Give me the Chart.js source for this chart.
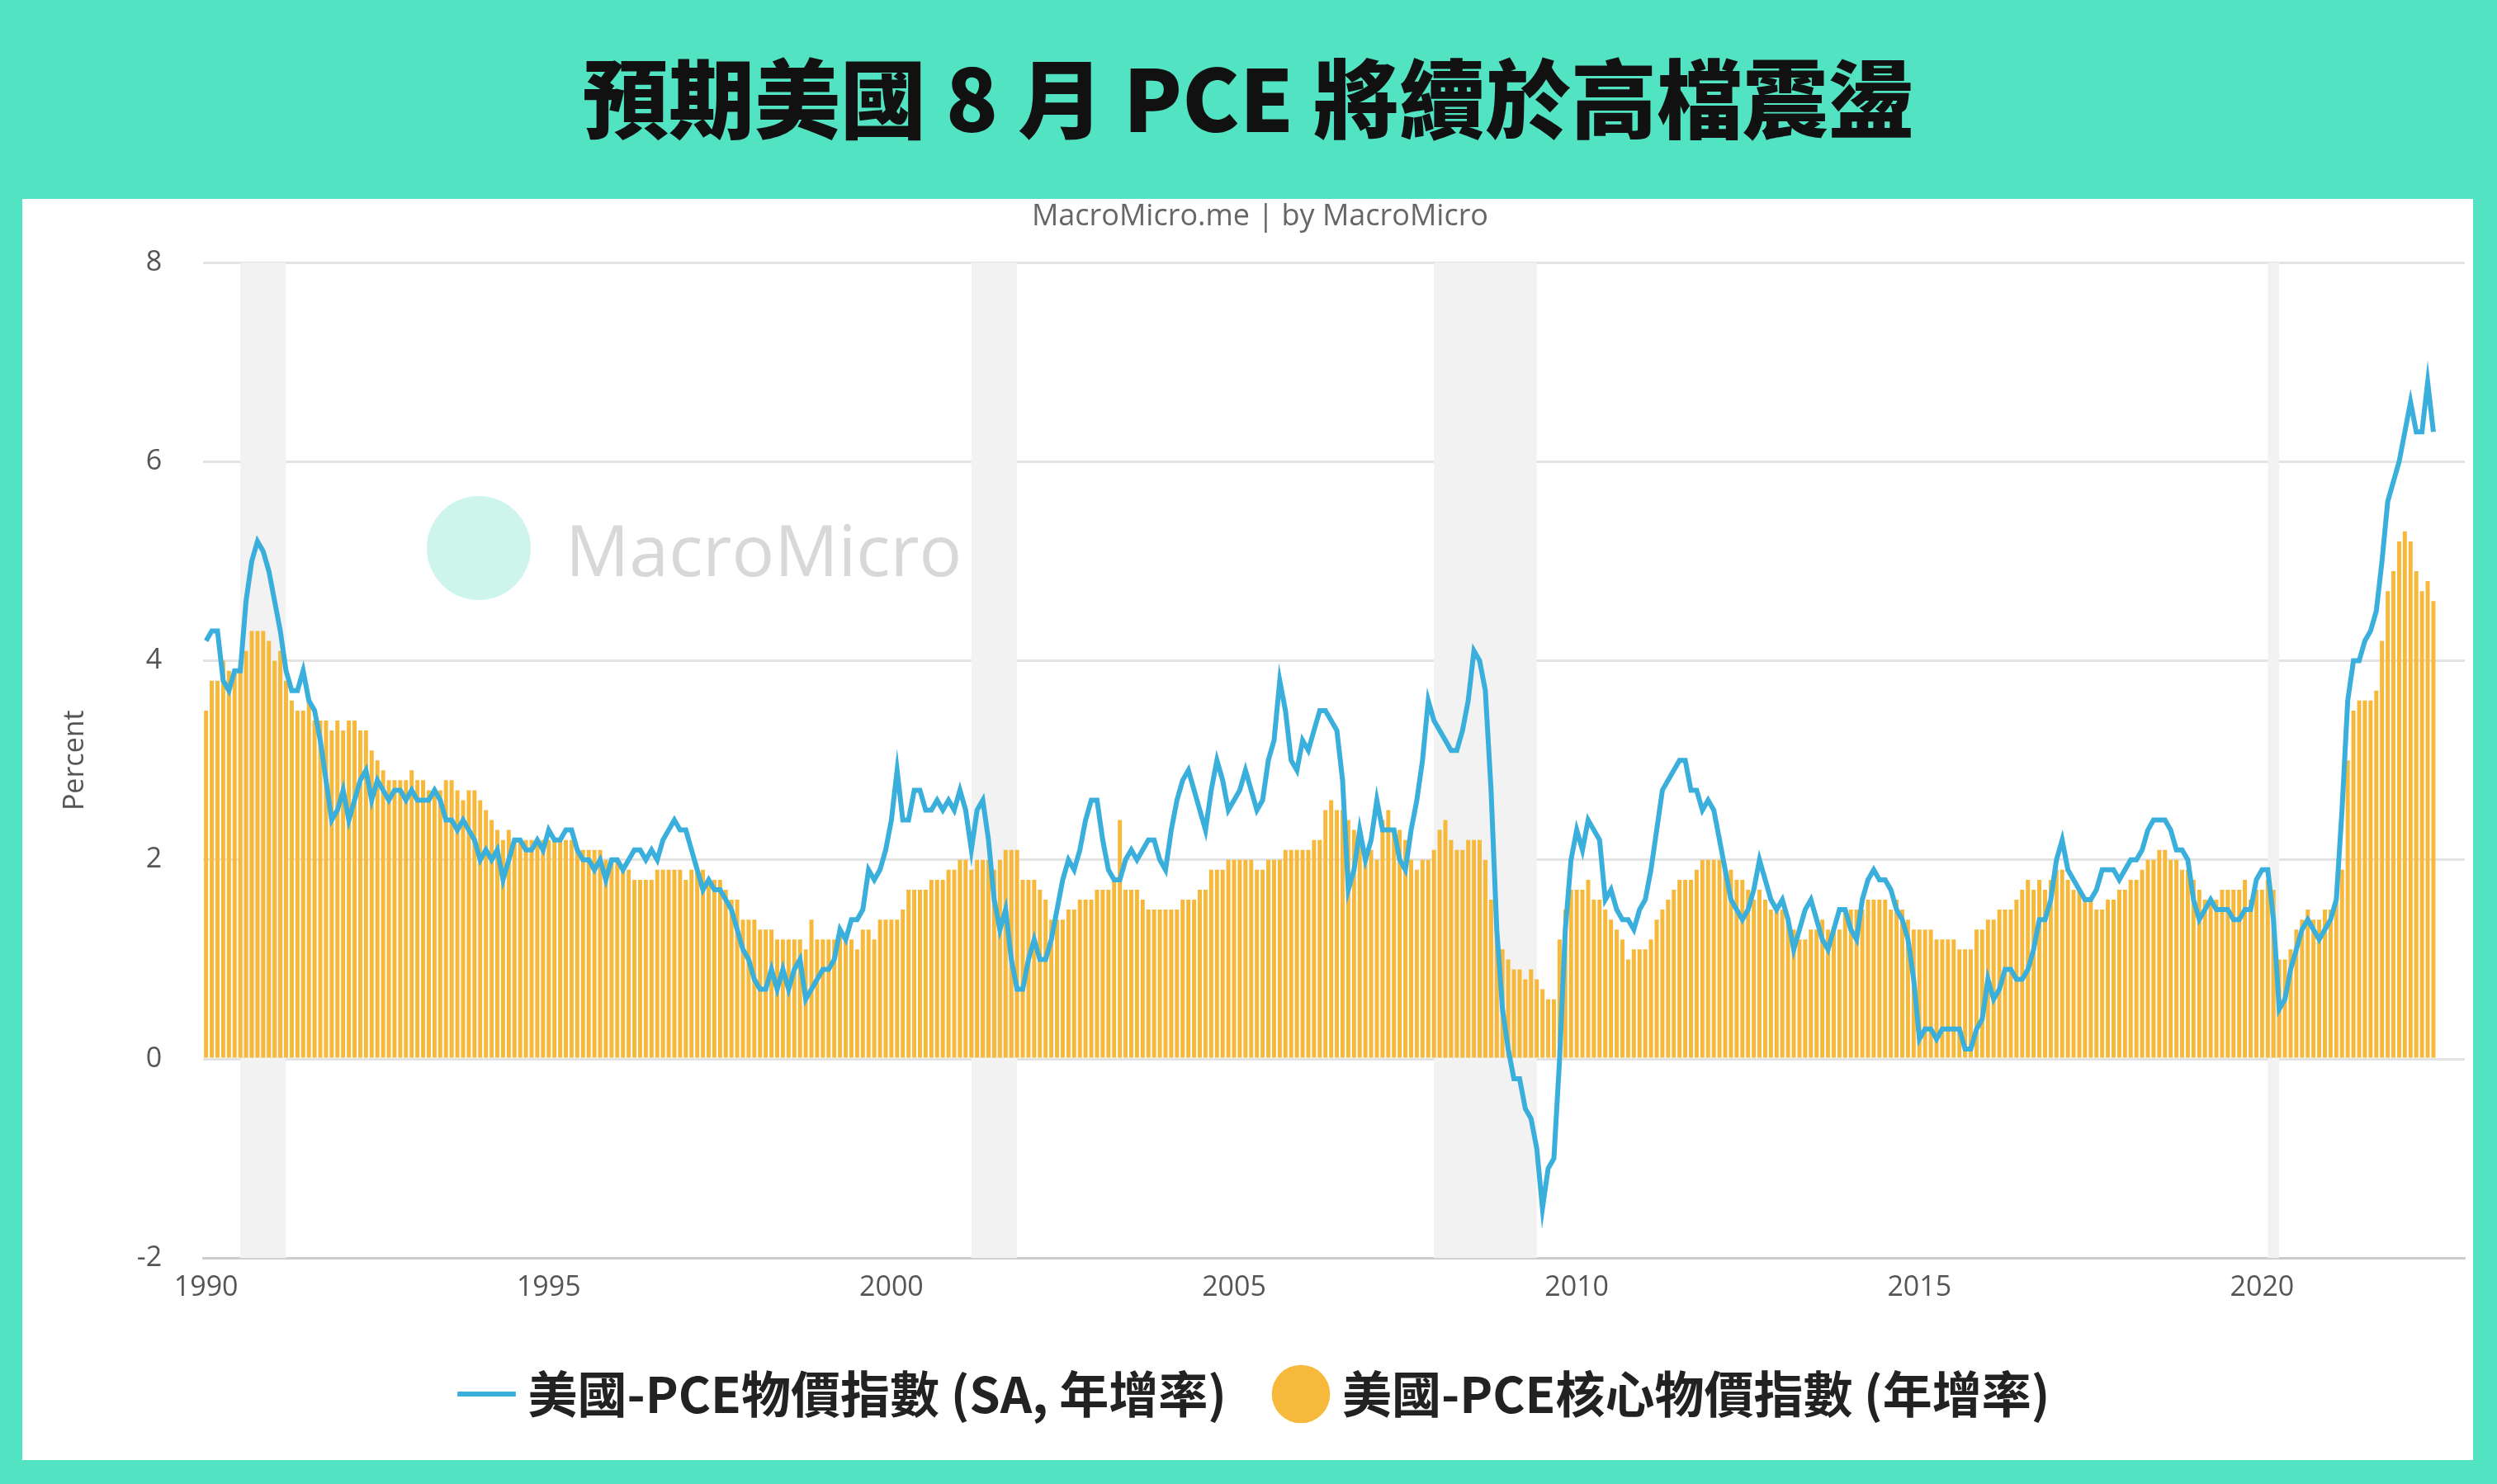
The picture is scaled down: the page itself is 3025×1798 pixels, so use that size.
<!DOCTYPE html>
<html>
<head>
<meta charset="utf-8">
<script src="https://cdn.jsdelivr.net/npm/chart.js@4"></script>
<style>
  html, body { margin: 0; padding: 0; }
  body { width: 3025px; height: 1798px; background: #52e3c2; position: relative; overflow: hidden;
         font-family: "Noto Sans CJK TC", "Noto Sans", sans-serif; }
  #title { position: absolute; left: 0; top: 40px; width: 3025px; text-align: center;
           font-size: 104px; font-weight: 900; color: #111; line-height: 150px; }
  #panel { position: absolute; left: 27px; top: 241px; width: 2969px; height: 1528px; background: #fff; }
  #wrap { position: absolute; left: 0; top: 0; width: 2969px; height: 1528px; }
  #mark { position: absolute; left: 490px; top: 360px; display: flex; align-items: center; opacity: 0.9; }
  #mark .dot { width: 126px; height: 126px; border-radius: 50%; background: #c9f4ea; }
  #mark .txt { margin-left: 42px; font-family: "Open Sans", sans-serif; font-size: 86px; color: #d4d4d4; }
</style>
</head>
<body>
<div id="title">預期美國 8 月 PCE 將續於高檔震盪</div>
<div id="panel">
  <div id="mark"><div class="dot"></div><div class="txt">MacroMicro</div></div>
  <div id="wrap"><canvas id="c"></canvas></div>
</div>
<script>
// monthly, 1990-01 .. 2022-07
var headline = [
  4.2,4.3,4.3,3.8,3.7,3.9,3.9,4.6,5.0,5.2,5.1,4.9,
  4.6,4.3,3.9,3.7,3.7,3.9,3.6,3.5,3.2,2.8,2.4,2.5,
  2.7,2.4,2.6,2.8,2.9,2.6,2.8,2.7,2.6,2.7,2.7,2.6,
  2.7,2.6,2.6,2.6,2.7,2.6,2.4,2.4,2.3,2.4,2.3,2.2,
  2.0,2.1,2.0,2.1,1.8,2.0,2.2,2.2,2.1,2.1,2.2,2.1,
  2.3,2.2,2.2,2.3,2.3,2.1,2.0,2.0,1.9,2.0,1.8,2.0,
  2.0,1.9,2.0,2.1,2.1,2.0,2.1,2.0,2.2,2.3,2.4,2.3,
  2.3,2.1,1.9,1.7,1.8,1.7,1.7,1.6,1.5,1.3,1.1,1.0,
  0.8,0.7,0.7,0.9,0.7,0.9,0.7,0.9,1.0,0.6,0.7,0.8,
  0.9,0.9,1.0,1.3,1.2,1.4,1.4,1.5,1.9,1.8,1.9,2.1,
  2.4,2.9,2.4,2.4,2.7,2.7,2.5,2.5,2.6,2.5,2.6,2.5,
  2.7,2.5,2.1,2.5,2.6,2.2,1.6,1.3,1.5,1.0,0.7,0.7,
  1.0,1.2,1.0,1.0,1.2,1.5,1.8,2.0,1.9,2.1,2.4,2.6,
  2.6,2.2,1.9,1.8,1.8,2.0,2.1,2.0,2.1,2.2,2.2,2.0,
  1.9,2.3,2.6,2.8,2.9,2.7,2.5,2.3,2.7,3.0,2.8,2.5,
  2.6,2.7,2.9,2.7,2.5,2.6,3.0,3.2,3.8,3.5,3.0,2.9,
  3.2,3.1,3.3,3.5,3.5,3.4,3.3,2.8,1.7,1.9,2.3,2.0,
  2.2,2.6,2.3,2.3,2.3,2.0,1.9,2.3,2.6,3.0,3.6,3.4,
  3.3,3.2,3.1,3.1,3.3,3.6,4.1,4.0,3.7,2.7,1.3,0.5,
  0.1,-0.2,-0.2,-0.5,-0.6,-0.9,-1.5,-1.1,-1.0,0.0,1.3,2.0,
  2.3,2.1,2.4,2.3,2.2,1.6,1.7,1.5,1.4,1.4,1.3,1.5,
  1.6,1.9,2.3,2.7,2.8,2.9,3.0,3.0,2.7,2.7,2.5,2.6,
  2.5,2.2,1.9,1.6,1.5,1.4,1.5,1.7,2.0,1.8,1.6,1.5,
  1.6,1.4,1.1,1.3,1.5,1.6,1.4,1.2,1.1,1.3,1.5,1.5,
  1.3,1.2,1.6,1.8,1.9,1.8,1.8,1.7,1.5,1.4,1.2,0.8,
  0.2,0.3,0.3,0.2,0.3,0.3,0.3,0.3,0.1,0.1,0.3,0.4,
  0.8,0.6,0.7,0.9,0.9,0.8,0.8,0.9,1.1,1.4,1.4,1.6,
  2.0,2.2,1.9,1.8,1.7,1.6,1.6,1.7,1.9,1.9,1.9,1.8,
  1.9,2.0,2.0,2.1,2.3,2.4,2.4,2.4,2.3,2.1,2.1,2.0,
  1.6,1.4,1.5,1.6,1.5,1.5,1.5,1.4,1.4,1.5,1.5,1.8,
  1.9,1.9,1.4,0.5,0.6,0.9,1.1,1.3,1.4,1.3,1.2,1.3,
  1.4,1.6,2.5,3.6,4.0,4.0,4.2,4.3,4.5,5.0,5.6,5.8,
  6.0,6.3,6.6,6.3,6.3,6.8,6.3
];
var core = [
  3.5,3.8,3.8,4.0,3.9,3.9,4.0,4.1,4.3,4.3,4.3,4.2,
  4.0,4.1,3.8,3.6,3.5,3.5,3.6,3.4,3.4,3.4,3.3,3.4,
  3.3,3.4,3.4,3.3,3.3,3.1,3.0,2.9,2.8,2.8,2.8,2.8,
  2.9,2.8,2.8,2.7,2.7,2.7,2.8,2.8,2.7,2.6,2.7,2.7,
  2.6,2.5,2.4,2.3,2.2,2.3,2.2,2.2,2.2,2.2,2.2,2.2,
  2.2,2.2,2.2,2.2,2.2,2.1,2.1,2.1,2.1,2.1,2.0,2.0,
  2.0,1.9,1.9,1.8,1.8,1.8,1.8,1.9,1.9,1.9,1.9,1.9,
  1.8,1.9,1.9,1.9,1.8,1.8,1.8,1.7,1.6,1.6,1.4,1.4,
  1.4,1.3,1.3,1.3,1.2,1.2,1.2,1.2,1.2,1.1,1.4,1.2,
  1.2,1.2,1.2,1.3,1.2,1.2,1.1,1.3,1.3,1.2,1.4,1.4,
  1.4,1.4,1.5,1.7,1.7,1.7,1.7,1.8,1.8,1.8,1.9,1.9,
  2.0,2.0,1.9,2.0,2.0,2.0,1.9,2.0,2.1,2.1,2.1,1.8,
  1.8,1.8,1.7,1.6,1.4,1.4,1.4,1.5,1.5,1.6,1.6,1.6,
  1.7,1.7,1.7,1.8,2.4,1.7,1.7,1.7,1.6,1.5,1.5,1.5,
  1.5,1.5,1.5,1.6,1.6,1.6,1.7,1.7,1.9,1.9,1.9,2.0,
  2.0,2.0,2.0,2.0,1.9,1.9,2.0,2.0,2.0,2.1,2.1,2.1,
  2.1,2.1,2.2,2.2,2.5,2.6,2.5,2.5,2.4,2.3,2.2,2.1,
  2.1,2.0,2.4,2.5,2.3,2.3,2.2,2.0,1.9,2.0,2.0,2.1,
  2.3,2.4,2.2,2.1,2.1,2.2,2.2,2.2,2.0,1.6,1.3,1.1,
  1.0,0.9,0.9,0.8,0.9,0.8,0.7,0.6,0.6,1.2,1.5,1.7,
  1.7,1.7,1.8,1.6,1.6,1.5,1.4,1.3,1.2,1.0,1.1,1.1,
  1.1,1.2,1.4,1.5,1.6,1.7,1.8,1.8,1.8,1.9,2.0,2.0,
  2.0,2.0,1.9,1.9,1.8,1.8,1.7,1.6,1.7,1.6,1.5,1.5,
  1.5,1.4,1.3,1.2,1.2,1.3,1.3,1.4,1.3,1.3,1.3,1.5,
  1.5,1.5,1.5,1.6,1.6,1.6,1.6,1.5,1.6,1.5,1.4,1.3,
  1.3,1.3,1.3,1.2,1.2,1.2,1.2,1.1,1.1,1.1,1.3,1.3,
  1.4,1.4,1.5,1.5,1.5,1.6,1.7,1.8,1.7,1.8,1.7,1.8,
  1.9,1.9,1.8,1.7,1.7,1.6,1.6,1.5,1.5,1.6,1.6,1.7,
  1.7,1.8,1.8,1.9,2.0,2.0,2.1,2.1,2.0,2.0,1.9,1.9,
  1.8,1.7,1.6,1.6,1.6,1.7,1.7,1.7,1.7,1.8,1.6,1.7,
  1.7,1.8,1.7,1.0,1.0,1.1,1.3,1.4,1.5,1.4,1.4,1.5,
  1.5,1.6,1.9,3.0,3.5,3.6,3.6,3.6,3.7,4.2,4.7,4.9,
  5.2,5.3,5.2,4.9,4.7,4.8,4.6
];
var recessions = [["1990-07", "1991-03"], ["2001-03", "2001-11"], ["2007-12", "2009-06"], ["2020-02", "2020-04"]];
var yTicks = [-2, 0, 2, 4, 6, 8];
var lastLabel = "2022-12";  // axis runs a few months past the data

var labels = [];
for (var i = 0; ; i++) {
  var y = 1990 + Math.floor(i / 12), m = i % 12 + 1;
  var l = y + '-' + (m < 10 ? '0' + m : m);
  labels.push(l);
  if (l === lastLabel) break;
}

var shade = {
  id: 'shade',
  beforeDatasetsDraw: function (chart) {
    var x = chart.scales.x, a = chart.chartArea, ctx = chart.ctx;
    ctx.save();
    ctx.fillStyle = '#f2f2f2';
    recessions.forEach(function (r) {
      var x0 = x.getPixelForValue(labels.indexOf(r[0])), x1 = x.getPixelForValue(labels.indexOf(r[1]));
      ctx.fillRect(x0, a.top, x1 - x0, a.bottom - a.top);
    });
    ctx.restore();
  }
};

new Chart(document.getElementById('c'), {
  data: {
    labels: labels,
    datasets: [
      { type: 'line', label: '美國-PCE物價指數 (SA, 年增率)', data: headline, borderColor: '#3aafdc',
        backgroundColor: '#3aafdc', borderWidth: 6, pointRadius: 0, tension: 0, pointStyle: 'line', order: 0 },
      { type: 'bar', label: '美國-PCE核心物價指數 (年增率)', data: core, backgroundColor: '#f6b93b',
        barPercentage: 0.72, categoryPercentage: 1, pointStyle: 'circle', order: 1 }
    ]
  },
  options: {
    responsive: true, maintainAspectRatio: false, animation: false,
    layout: { padding: { left: 40, right: 10, top: 0, bottom: 40 } },
    plugins: {
      title: { display: true, text: 'MacroMicro.me | by MacroMicro', color: '#666',
               font: { family: 'Open Sans', size: 36, weight: 'normal' }, padding: { top: 0, bottom: 34 } },
      legend: { position: 'bottom',
        labels: { usePointStyle: true, boxHeight: 50, padding: 70, color: '#222',
                  font: { family: 'Noto Sans CJK TC', size: 60, weight: 'bold' } } },
      tooltip: { enabled: false }
    },
    scales: {
      x: { offset: true,
        grid: { display: false, drawOnChartArea: false },
        border: { color: '#ccc', width: 3 },
        ticks: { autoSkip: false, maxRotation: 0, color: '#555', font: { family: 'Open Sans', size: 34 }, padding: 8,
          callback: function (v, i) { var l = labels[i]; return (l.slice(5) === '01' && (+l.slice(0, 4)) % 5 === 0) ? l.slice(0, 4) : null; } }
      },
      y: { min: -2, max: 8,
        afterBuildTicks: function (s) { s.ticks = yTicks.map(function (v) { return { value: v }; }); },
        grid: { color: '#e3e3e3', lineWidth: 3, drawTicks: false },
        border: { display: false },
        ticks: { color: '#555', font: { family: 'Open Sans', size: 34 }, padding: 50 },
        title: { display: true, text: 'Percent', color: '#555', font: { family: 'Open Sans', size: 34 } }
      }
    }
  },
  plugins: [shade]
});
</script>
</body>
</html>
